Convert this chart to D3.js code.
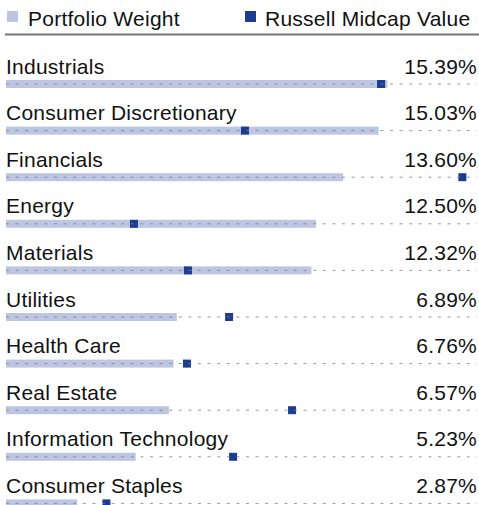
<!DOCTYPE html>
<html>
<head>
<meta charset="utf-8">
<script src="https://cdn.jsdelivr.net/npm/d3@7"></script>
<style>
  html, body { margin: 0; padding: 0; background: #fff; }
  svg { display: block; font-family: "Liberation Sans", Arial, sans-serif; }
  text { letter-spacing: 0.25px; }
</style>
</head>
<body>
<svg id="chart"></svg>
<script>
let width = 479,
  height = 505;

let sectors = ["Industrials", "Consumer Discretionary", "Financials", "Energy", "Materials",
  "Utilities", "Health Care", "Real Estate", "Information Technology", "Consumer Staples"]
let portfolio = [15.39, 15.03, 13.60, 12.50, 12.32, 6.89, 6.76, 6.57, 5.23, 2.87]
let benchmark = [15.13, 9.64, 18.41, 5.16, 7.34, 9.00, 7.30, 11.54, 9.16, 4.05]
let legend_labels = ["Portfolio Weight", "Russell Midcap Value"]

let colors = { bar: "#bcc6e2", mark: "#1d3c8f", dash: "#808080", text: "#111" }

let rows = sectors.map((s, i) => ({ sector: s, port: portfolio[i], bench: benchmark[i] }))

let scales = {
  x: d3.scaleLinear().domain([0, 19]).range([6, 477]),
  y: d3.scaleBand().domain(sectors).range([38, 38 + 46.6 * sectors.length])
}

let svg = d3.select("#chart").attr("width", width).attr("height", height)

// legend
let legend = svg.append("g")
legend.append("rect").attr("x", 7).attr("y", 11).attr("width", 11).attr("height", 11).attr("fill", colors.bar)
legend.append("text").attr("x", 28).attr("y", 25.5).text(legend_labels[0])
legend.append("rect").attr("x", 245).attr("y", 11).attr("width", 11).attr("height", 11).attr("fill", colors.mark)
legend.append("text").attr("x", 265).attr("y", 25.5).text(legend_labels[1])
legend.selectAll("text").attr("font-size", 21).attr("fill", colors.text)
svg.append("line").attr("x1", 5).attr("x2", 479).attr("y1", 34.5).attr("y2", 34.5)
  .attr("stroke", "#777").attr("stroke-width", 2)

let row = svg.selectAll("g.row").data(rows).enter()
  .append("g").attr("class", "row")
  .attr("transform", d => `translate(0,${scales.y(d.sector)})`)

row.append("text").attr("x", 6).attr("y", 35.5)
  .attr("font-size", 21).attr("fill", colors.text).text(d => d.sector)
row.append("text").attr("x", 477).attr("y", 35.5).attr("text-anchor", "end")
  .attr("font-size", 21).attr("fill", colors.text).text(d => d.port.toFixed(2) + "%")

row.append("rect")
  .attr("x", scales.x(0)).attr("y", 42)
  .attr("width", d => scales.x(d.port) - scales.x(0)).attr("height", 8)
  .attr("fill", colors.bar)

row.append("rect")
  .attr("x", d => scales.x(d.bench) - 4).attr("y", 42)
  .attr("width", 8).attr("height", 8)
  .attr("fill", colors.mark)

row.append("line")
  .attr("x1", scales.x(0)).attr("x2", scales.x(19)).attr("y1", 46).attr("y2", 46)
  .attr("stroke", colors.dash).attr("stroke-width", 1).attr("stroke-opacity", 0.8)
  .attr("stroke-dasharray", "3,6.6")
</script>
</body>
</html>
